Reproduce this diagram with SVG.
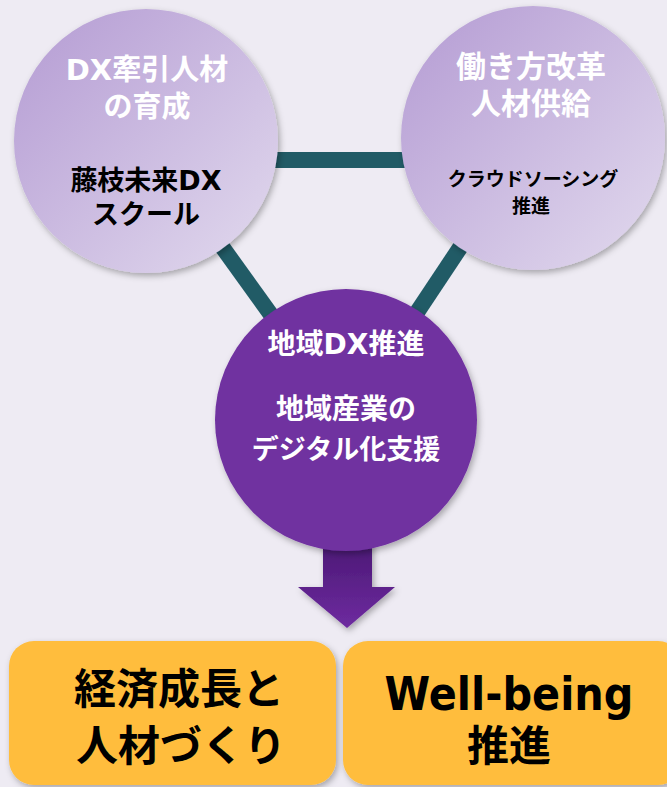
<svg xmlns="http://www.w3.org/2000/svg" width="667" height="787" viewBox="0 0 667 787">
<defs>
<linearGradient id="gLight" x1="0" y1="0" x2="1" y2="1">
<stop offset="0" stop-color="#B49BD3"/>
<stop offset="1" stop-color="#E2DAEE"/>
</linearGradient>
<linearGradient id="gArrow" x1="0" y1="0" x2="0" y2="1">
<stop offset="0" stop-color="#4A1874"/>
<stop offset="1" stop-color="#6E2BA0"/>
</linearGradient>
<filter id="sh" x="-20%" y="-20%" width="140%" height="140%">
<feDropShadow dx="2" dy="3" stdDeviation="3" flood-color="#000" flood-opacity="0.3"/>
</filter>
</defs>
<style>
text{font-family:"DejaVu Sans","Noto Sans CJK JP",sans-serif;font-weight:bold;text-anchor:middle}
.w{fill:#FFFFFF}
.k{fill:#000000}
.conn{stroke:#215B66;stroke-width:16;fill:none}
.box{fill:#FFBD3C;filter:url(#sh)}
</style>
<rect width="667" height="787" fill="#EEEBF3"/>
<g id="connectors">
<line class="conn" x1="146" y1="141" x2="346" y2="419"/>
<line class="conn" x1="533" y1="138" x2="346" y2="419"/>
<line class="conn" x1="260" y1="160" x2="420" y2="160"/>
</g>
<g id="arrow">
<path d="M323,540 L372,540 L372,587 L395,587 L347,628 L298,587 L323,587 Z" fill="url(#gArrow)" filter="url(#sh)"/>
</g>
<g id="node-left">
<circle cx="146" cy="141" r="132" fill="url(#gLight)" filter="url(#sh)"/>
<text class="w" x="147" y="80" font-size="29">DX牽引人材</text>
<text class="w" x="147" y="117" font-size="29">の育成</text>
<text class="k" x="146" y="190" font-size="27">藤枝未来DX</text>
<text class="k" x="146" y="224" font-size="27">スクール</text>
</g>
<g id="node-right">
<circle cx="533" cy="138" r="132" fill="url(#gLight)" filter="url(#sh)"/>
<text class="w" x="531" y="77" font-size="30">働き方改革</text>
<text class="w" x="531" y="114" font-size="30">人材供給</text>
<text class="k" x="533" y="186" font-size="19">クラウドソーシング</text>
<text class="k" x="531" y="213" font-size="19">推進</text>
</g>
<g id="node-center">
<circle cx="346" cy="420" r="131" fill="#7030A0" filter="url(#sh)"/>
<text class="w" x="346" y="354" font-size="28">地域DX推進</text>
<text class="w" x="346" y="419" font-size="28">地域産業の</text>
<text class="w" x="346" y="459" font-size="27">デジタル化支援</text>
</g>
<g id="box-left">
<rect class="box" x="9" y="641" width="327" height="144" rx="25"/>
<text class="k" x="179" y="704" font-size="42">経済成長と</text>
<text class="k" x="181" y="761" font-size="42">人材づくり</text>
</g>
<g id="box-right">
<rect class="box" x="343" y="641" width="340" height="144" rx="25"/>
<text class="k" x="509" y="710" font-size="46" textLength="249" lengthAdjust="spacingAndGlyphs">Well-being</text>
<text class="k" x="509" y="761" font-size="42">推進</text>
</g>
</svg>
